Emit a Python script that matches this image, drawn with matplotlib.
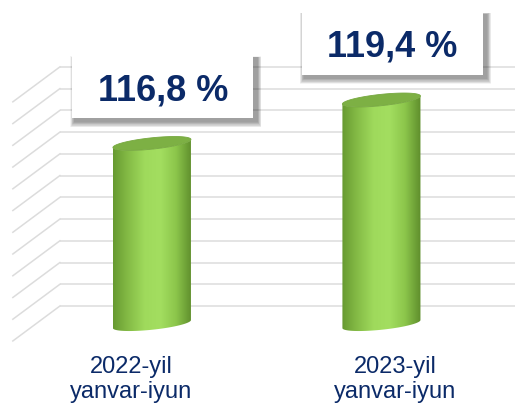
import numpy as np
import matplotlib
matplotlib.use('Agg')
import matplotlib.pyplot as plt
import matplotlib.transforms as mtransforms
from matplotlib.patches import Rectangle, PathPatch, Polygon
from matplotlib.path import Path
from matplotlib.colors import LinearSegmentedColormap

# data
categories = ['2022-yil\nyanvar-iyun', '2023-yil\nyanvar-iyun']
values = [116.8, 119.4]
value_labels = ['116,8 %', '119,4 %']

plt.rcParams['font.family'] = ['Liberation Sans', 'DejaVu Sans']
NAVY = '#0B2A68'
GRID = '#DCDCDC'

base = 106.0          # value where the cylinders stand
grid_levels = 107.08 + 1.30 * np.arange(12)

fig = plt.figure(figsize=(5.15, 4.06), dpi=100)
ax = fig.add_axes([0, 0, 1, 1])
ax.axis('off')

# back wall + side wall gridlines
for g in grid_levels:
    ax.plot([-0.401, 1.582], [g, g], color=GRID, lw=1.1, zorder=1, solid_capstyle='butt')
    ax.plot([-0.606, -0.401], [g - 2.09, g], color=GRID, lw=1.1, zorder=1)

# cylinders
a = 0.17     # half width (x units)
b = 0.34     # half depth of ellipse (y units)
sh = 0.24    # tilt of the ellipse
cyl_cmap = LinearSegmentedColormap.from_list(
    'cyl', ['#679A31', '#86BD47', '#9FDA5C', '#A3DE60', '#8CC64B', '#5F8E2C'])

def ellipse(cx, cy, t):
    return np.column_stack([cx + a * np.cos(t), cy + b * np.sin(t) + sh * np.cos(t)])

for i, v in enumerate(values):
    t_front = np.linspace(np.pi, 2 * np.pi, 60)
    top_front = ellipse(i, v, t_front)
    bot_front = ellipse(i, base, t_front[::-1])
    body = np.vstack([ellipse(i, base, np.array([np.pi])), top_front, bot_front])
    patch = PathPatch(Path(body, closed=True), facecolor='none', edgecolor='none')
    ax.add_patch(patch)
    grad = np.linspace(0, 1, 200).reshape(1, -1)
    im = ax.imshow(grad, cmap=cyl_cmap, aspect='auto', zorder=2,
                   extent=[i - a, i + a, base - 1, v + 1], interpolation='bicubic')
    im.set_clip_path(patch)
    top = ellipse(i, v, np.linspace(0, 2 * np.pi, 120))
    ax.add_patch(Polygon(top, closed=True, facecolor='#7DB044', edgecolor='#76A83F',
                         lw=0.6, zorder=3))

ax.set_xlim(-0.662, 1.582)
ax.set_ylim(101.16, 125.44)

# value boxes with soft shadow
bw, bh = 1.81, 0.64
for i, v in enumerate(values):
    tr = fig.dpi_scale_trans + mtransforms.ScaledTranslation(i, v, ax.transData)
    cx, cy = 0.11, 0.57
    for k in range(10, 0, -1):
        d = k * 0.01
        ax.add_patch(Rectangle((cx - bw / 2 + 0.02 - d * 0.4, cy - bh / 2 - 0.03 - d * 0.6),
                               bw + d * 0.8 + 0.02, bh + d * 0.7,
                               transform=tr, facecolor='black', alpha=0.045,
                               edgecolor='none', zorder=4))
    ax.add_patch(Rectangle((cx - bw / 2, cy - bh / 2), bw, bh, transform=tr,
                           facecolor='white', edgecolor='none', zorder=5))
    ax.text(cx, cy - 0.13, value_labels[i], transform=tr, ha='center', va='baseline',
            fontsize=26, fontweight='bold', color=NAVY, zorder=6)

# category labels
for i, c in enumerate(categories):
    ax.text(i * 1.148 - 0.089, 104.15, c, ha='center', va='top', fontsize=17,
            color=NAVY, linespacing=1.15)

fig.savefig('out.png', dpi=100)
